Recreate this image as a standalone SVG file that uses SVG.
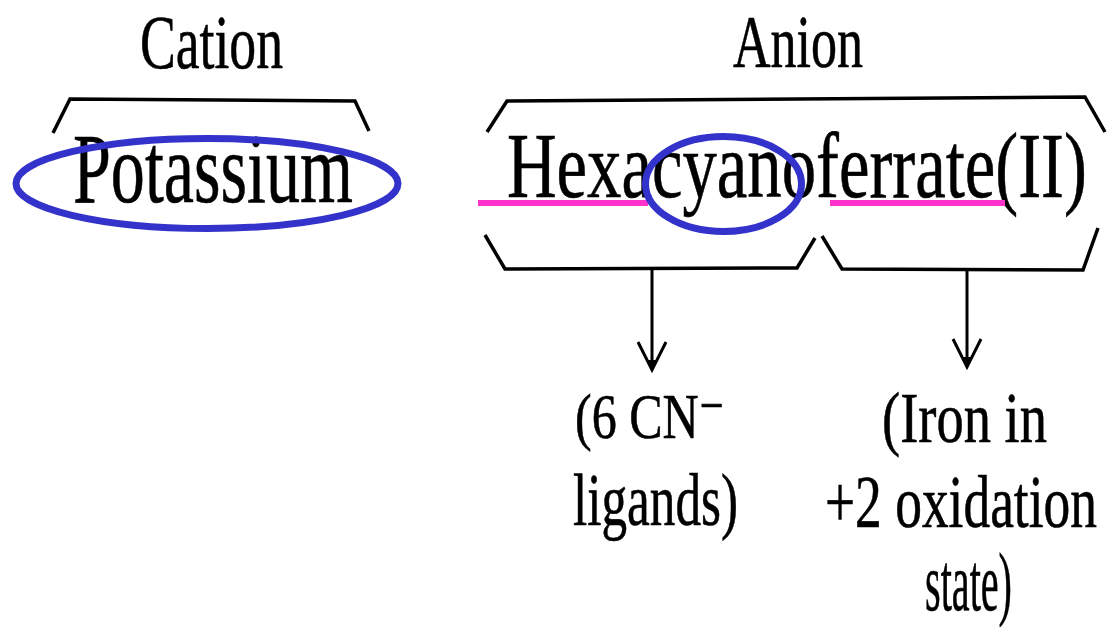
<svg xmlns="http://www.w3.org/2000/svg" width="1115" height="627" viewBox="0 0 1115 627">
  <style>
    .t { font-family: "Liberation Serif", "DejaVu Serif", serif; fill: #000; stroke: #000; stroke-width: 0.6; }
    .br { fill: none; stroke: #000; stroke-width: 3.5; stroke-linejoin: miter; }
    .ov { fill: none; stroke: #3333cc; stroke-width: 7; }
    .ul { stroke: #ff33cc; stroke-width: 6; }
    .ar { fill: none; stroke: #000; stroke-width: 3; }
  </style>
  <defs>
    <marker id="arrow" markerUnits="userSpaceOnUse" markerWidth="34" markerHeight="34" refX="30" refY="17" orient="auto" viewBox="0 0 34 34">
      <path d="M2,3 L30,17 L2,31" fill="none" stroke="#000" stroke-width="3"/>
      <path d="M20,12 L30,17 L20,22 Z" fill="#000"/>
    </marker>
  </defs>
  <rect width="1115" height="627" fill="#fff"/>

  <g id="cation">
    <text class="t" x="140" y="68" font-size="76" textLength="143" lengthAdjust="spacingAndGlyphs">Cation</text>
    <path class="br" d="M53,133 L70,99 L355,101 L369,131"/>
  </g>

  <g id="potassium">
    <text class="t" x="73" y="202" font-size="99" textLength="280" lengthAdjust="spacingAndGlyphs">Potassium</text>
    <ellipse class="ov" cx="207" cy="183.5" rx="191" ry="45"/>
  </g>

  <g id="anion">
    <text class="t" transform="translate(733,67) scale(0.703,1)" font-size="74">Anion</text>
    <path class="br" d="M487,132 L507,101 L1085,97 L1105,132"/>
  </g>

  <g id="hexacyanoferrate">
    <text class="t" transform="translate(507,197) scale(0.731,1)" font-size="94">Hexacyanoferrate(II)</text>
    <line class="ul" x1="478" y1="203" x2="648" y2="203"/>
    <line class="ul" x1="830" y1="203" x2="1005" y2="203"/>
    <ellipse class="ov" cx="723.5" cy="184" rx="78" ry="47.5"/>
    <path class="br" d="M485,235 L505,269 L797,268 L815,238"/>
    <path class="br" d="M822,236 L842,269 L1083,270 L1098,228"/>
  </g>

  <g id="connectors">
    <line class="ar" x1="652" y1="270" x2="652" y2="370" marker-end="url(#arrow)"/>
    <line class="ar" x1="967" y1="270" x2="967" y2="367" marker-end="url(#arrow)"/>
  </g>

  <g id="ligands">
    <text class="t" x="575" y="438" font-size="64" textLength="150" lengthAdjust="spacingAndGlyphs">(6 CN⁻</text>
    <text class="t" x="573" y="525" font-size="74" textLength="165" lengthAdjust="spacingAndGlyphs">ligands)</text>
  </g>

  <g id="iron">
    <text class="t" x="882" y="442" font-size="71" textLength="165" lengthAdjust="spacingAndGlyphs">(Iron in</text>
    <text class="t" transform="translate(825,527) scale(0.722,1)" font-size="74">+2 oxidation</text>
    <text class="t" x="925" y="610" font-size="82" textLength="87" lengthAdjust="spacingAndGlyphs">state)</text>
  </g>
</svg>
